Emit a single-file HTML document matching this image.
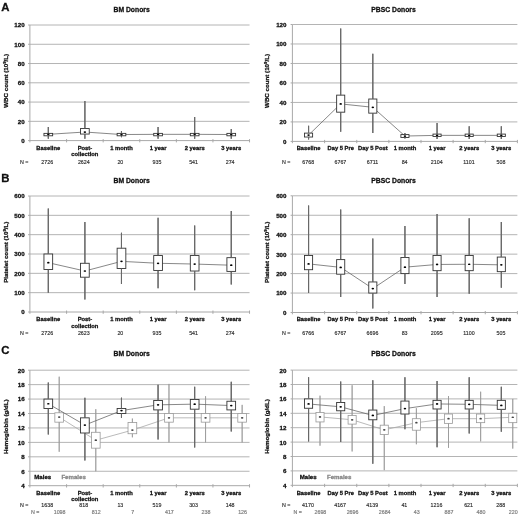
<!DOCTYPE html>
<html><head><meta charset="utf-8"><title>Donor blood counts</title>
<style>
html,body{margin:0;padding:0;background:#fff;}
body{width:520px;height:518px;overflow:hidden;}
svg{display:block;font-family:"Liberation Sans", sans-serif;filter:blur(0.35px);}
text{stroke:currentColor;stroke-width:0.28px;}
text.g{fill:#858585;color:#858585;}
text.r{stroke-width:0.14px;fill:#2a2a2a;color:#2a2a2a;}
text.g.r{fill:#808080;color:#808080;stroke-width:0.2px;}
svg{color:#111;}
</style></head><body>
<svg width="520" height="518" viewBox="0 0 520 518" fill="#111">
<line x1="29.9" y1="121.33" x2="249.54" y2="121.33" stroke="#b4b4b4" stroke-width="1.0"/>
<line x1="29.9" y1="102.07" x2="249.54" y2="102.07" stroke="#b4b4b4" stroke-width="1.0"/>
<line x1="29.9" y1="82.8" x2="249.54" y2="82.8" stroke="#b4b4b4" stroke-width="1.0"/>
<line x1="29.9" y1="63.53" x2="249.54" y2="63.53" stroke="#b4b4b4" stroke-width="1.0"/>
<line x1="29.9" y1="44.27" x2="249.54" y2="44.27" stroke="#b4b4b4" stroke-width="1.0"/>
<line x1="29.9" y1="25" x2="249.54" y2="25" stroke="#b4b4b4" stroke-width="1.0"/>
<line x1="29.9" y1="25" x2="29.9" y2="142.4" stroke="#a8a8a8" stroke-width="1.0"/>
<line x1="28.1" y1="140.6" x2="29.9" y2="140.6" stroke="#a8a8a8" stroke-width="1.0"/>
<text x="24.6" y="143" font-size="6.2" font-weight="bold" text-anchor="end">0</text>
<line x1="28.1" y1="121.33" x2="29.9" y2="121.33" stroke="#a8a8a8" stroke-width="1.0"/>
<text x="24.6" y="123.73" font-size="6.2" font-weight="bold" text-anchor="end">20</text>
<line x1="28.1" y1="102.07" x2="29.9" y2="102.07" stroke="#a8a8a8" stroke-width="1.0"/>
<text x="24.6" y="104.47" font-size="6.2" font-weight="bold" text-anchor="end">40</text>
<line x1="28.1" y1="82.8" x2="29.9" y2="82.8" stroke="#a8a8a8" stroke-width="1.0"/>
<text x="24.6" y="85.2" font-size="6.2" font-weight="bold" text-anchor="end">60</text>
<line x1="28.1" y1="63.53" x2="29.9" y2="63.53" stroke="#a8a8a8" stroke-width="1.0"/>
<text x="24.6" y="65.93" font-size="6.2" font-weight="bold" text-anchor="end">80</text>
<line x1="28.1" y1="44.27" x2="29.9" y2="44.27" stroke="#a8a8a8" stroke-width="1.0"/>
<text x="24.6" y="46.67" font-size="6.2" font-weight="bold" text-anchor="end">100</text>
<line x1="28.1" y1="25" x2="29.9" y2="25" stroke="#a8a8a8" stroke-width="1.0"/>
<text x="24.6" y="27.4" font-size="6.2" font-weight="bold" text-anchor="end">120</text>
<line x1="29.9" y1="140.6" x2="249.54" y2="140.6" stroke="#a8a8a8" stroke-width="1.0"/>
<line x1="66.59" y1="139.1" x2="66.59" y2="142.4" stroke="#a8a8a8" stroke-width="1.0"/>
<line x1="103.18" y1="139.1" x2="103.18" y2="142.4" stroke="#a8a8a8" stroke-width="1.0"/>
<line x1="139.77" y1="139.1" x2="139.77" y2="142.4" stroke="#a8a8a8" stroke-width="1.0"/>
<line x1="176.36" y1="139.1" x2="176.36" y2="142.4" stroke="#a8a8a8" stroke-width="1.0"/>
<line x1="212.95" y1="139.1" x2="212.95" y2="142.4" stroke="#a8a8a8" stroke-width="1.0"/>
<line x1="249.54" y1="139.1" x2="249.54" y2="142.4" stroke="#a8a8a8" stroke-width="1.0"/>
<text transform="translate(7.6,80.8) rotate(-90)" font-size="6.2" font-weight="bold" text-anchor="middle">WBC count (10<tspan font-size="70%" dy="-1.6">9</tspan><tspan dy="1.6">/L)</tspan></text>
<text x="131.6" y="11.9" font-size="6.8" font-weight="bold" text-anchor="middle">BM Donors</text>
<text x="1.3" y="11" font-size="11.4" font-weight="bold">A</text>
<polyline fill="none" stroke="#6a6a6a" stroke-width="0.8" points="48.3,134.34 84.89,132.03 121.48,134.53 158.06,134.34 194.66,134.34 231.25,134.53"/>
<line x1="48.3" y1="127.11" x2="48.3" y2="138.67" stroke="#686868" stroke-width="1.1"/>
<line x1="84.89" y1="101.1" x2="84.89" y2="138.67" stroke="#686868" stroke-width="1.1"/>
<line x1="121.48" y1="130.97" x2="121.48" y2="137.23" stroke="#686868" stroke-width="1.1"/>
<line x1="158.06" y1="127.11" x2="158.06" y2="138.67" stroke="#686868" stroke-width="1.1"/>
<line x1="194.66" y1="117" x2="194.66" y2="138.67" stroke="#686868" stroke-width="1.1"/>
<line x1="231.25" y1="129.04" x2="231.25" y2="138.67" stroke="#686868" stroke-width="1.1"/>
<rect x="43.95" y="133.38" width="8.7" height="2.41" fill="#fff" stroke="#333333" stroke-width="0.9"/>
<line x1="48.3" y1="127.11" x2="48.3" y2="133.38" stroke="#686868" stroke-width="1.1"/>
<line x1="48.3" y1="135.78" x2="48.3" y2="138.67" stroke="#686868" stroke-width="1.1"/>
<ellipse cx="48.3" cy="134.34" rx="1.25" ry="0.85" fill="#000"/>
<rect x="80.54" y="128.56" width="8.7" height="5.49" fill="#fff" stroke="#333333" stroke-width="0.9"/>
<line x1="84.89" y1="101.1" x2="84.89" y2="128.56" stroke="#686868" stroke-width="1.1"/>
<line x1="84.89" y1="134.05" x2="84.89" y2="138.67" stroke="#686868" stroke-width="1.1"/>
<ellipse cx="84.89" cy="132.03" rx="1.25" ry="0.85" fill="#000"/>
<rect x="117.13" y="133.38" width="8.7" height="2.41" fill="#fff" stroke="#333333" stroke-width="0.9"/>
<line x1="121.48" y1="130.97" x2="121.48" y2="133.38" stroke="#686868" stroke-width="1.1"/>
<line x1="121.48" y1="135.78" x2="121.48" y2="137.23" stroke="#686868" stroke-width="1.1"/>
<ellipse cx="121.48" cy="134.53" rx="1.25" ry="0.85" fill="#000"/>
<rect x="153.72" y="133.38" width="8.7" height="2.41" fill="#fff" stroke="#333333" stroke-width="0.9"/>
<line x1="158.06" y1="127.11" x2="158.06" y2="133.38" stroke="#686868" stroke-width="1.1"/>
<line x1="158.06" y1="135.78" x2="158.06" y2="138.67" stroke="#686868" stroke-width="1.1"/>
<ellipse cx="158.06" cy="134.34" rx="1.25" ry="0.85" fill="#000"/>
<rect x="190.31" y="133.38" width="8.7" height="2.41" fill="#fff" stroke="#333333" stroke-width="0.9"/>
<line x1="194.66" y1="117" x2="194.66" y2="133.38" stroke="#686868" stroke-width="1.1"/>
<line x1="194.66" y1="135.78" x2="194.66" y2="138.67" stroke="#686868" stroke-width="1.1"/>
<ellipse cx="194.66" cy="134.34" rx="1.25" ry="0.85" fill="#000"/>
<rect x="226.9" y="133.38" width="8.7" height="2.41" fill="#fff" stroke="#333333" stroke-width="0.9"/>
<line x1="231.25" y1="129.04" x2="231.25" y2="133.38" stroke="#686868" stroke-width="1.1"/>
<line x1="231.25" y1="135.78" x2="231.25" y2="138.67" stroke="#686868" stroke-width="1.1"/>
<ellipse cx="231.25" cy="134.53" rx="1.25" ry="0.85" fill="#000"/>
<text x="48.3" y="149.9" font-size="5.8" font-weight="bold" text-anchor="middle">Baseline</text>
<text x="84.89" y="149.9" font-size="5.8" font-weight="bold" text-anchor="middle">Post-</text>
<text x="84.89" y="156.3" font-size="5.8" font-weight="bold" text-anchor="middle">collection</text>
<text x="121.48" y="149.9" font-size="5.8" font-weight="bold" text-anchor="middle">1 month</text>
<text x="158.06" y="149.9" font-size="5.8" font-weight="bold" text-anchor="middle">1 year</text>
<text x="194.66" y="149.9" font-size="5.8" font-weight="bold" text-anchor="middle">2 years</text>
<text x="231.25" y="149.9" font-size="5.8" font-weight="bold" text-anchor="middle">3 years</text>
<text class="r" x="20" y="164" font-size="5.3">N =</text>
<text class="r" x="47.2" y="164" font-size="5.3" text-anchor="middle">2726</text>
<text class="r" x="83.79" y="164" font-size="5.3" text-anchor="middle">2624</text>
<text class="r" x="120.38" y="164" font-size="5.3" text-anchor="middle">20</text>
<text class="r" x="156.97" y="164" font-size="5.3" text-anchor="middle">935</text>
<text class="r" x="193.56" y="164" font-size="5.3" text-anchor="middle">541</text>
<text class="r" x="230.15" y="164" font-size="5.3" text-anchor="middle">274</text>
<line x1="292.4" y1="121.92" x2="517.38" y2="121.92" stroke="#b4b4b4" stroke-width="1.0"/>
<line x1="292.4" y1="102.43" x2="517.38" y2="102.43" stroke="#b4b4b4" stroke-width="1.0"/>
<line x1="292.4" y1="82.95" x2="517.38" y2="82.95" stroke="#b4b4b4" stroke-width="1.0"/>
<line x1="292.4" y1="63.47" x2="517.38" y2="63.47" stroke="#b4b4b4" stroke-width="1.0"/>
<line x1="292.4" y1="43.98" x2="517.38" y2="43.98" stroke="#b4b4b4" stroke-width="1.0"/>
<line x1="292.4" y1="24.5" x2="517.38" y2="24.5" stroke="#b4b4b4" stroke-width="1.0"/>
<line x1="292.4" y1="24.5" x2="292.4" y2="143.2" stroke="#a8a8a8" stroke-width="1.0"/>
<line x1="290.6" y1="141.4" x2="292.4" y2="141.4" stroke="#a8a8a8" stroke-width="1.0"/>
<text x="286.5" y="143.8" font-size="6.2" font-weight="bold" text-anchor="end">0</text>
<line x1="290.6" y1="121.92" x2="292.4" y2="121.92" stroke="#a8a8a8" stroke-width="1.0"/>
<text x="286.5" y="124.32" font-size="6.2" font-weight="bold" text-anchor="end">20</text>
<line x1="290.6" y1="102.43" x2="292.4" y2="102.43" stroke="#a8a8a8" stroke-width="1.0"/>
<text x="286.5" y="104.83" font-size="6.2" font-weight="bold" text-anchor="end">40</text>
<line x1="290.6" y1="82.95" x2="292.4" y2="82.95" stroke="#a8a8a8" stroke-width="1.0"/>
<text x="286.5" y="85.35" font-size="6.2" font-weight="bold" text-anchor="end">60</text>
<line x1="290.6" y1="63.47" x2="292.4" y2="63.47" stroke="#a8a8a8" stroke-width="1.0"/>
<text x="286.5" y="65.87" font-size="6.2" font-weight="bold" text-anchor="end">80</text>
<line x1="290.6" y1="43.98" x2="292.4" y2="43.98" stroke="#a8a8a8" stroke-width="1.0"/>
<text x="286.5" y="46.38" font-size="6.2" font-weight="bold" text-anchor="end">100</text>
<line x1="290.6" y1="24.5" x2="292.4" y2="24.5" stroke="#a8a8a8" stroke-width="1.0"/>
<text x="286.5" y="26.9" font-size="6.2" font-weight="bold" text-anchor="end">120</text>
<line x1="292.4" y1="141.4" x2="517.38" y2="141.4" stroke="#a8a8a8" stroke-width="1.0"/>
<line x1="324.62" y1="139.9" x2="324.62" y2="143.2" stroke="#a8a8a8" stroke-width="1.0"/>
<line x1="356.75" y1="139.9" x2="356.75" y2="143.2" stroke="#a8a8a8" stroke-width="1.0"/>
<line x1="388.88" y1="139.9" x2="388.88" y2="143.2" stroke="#a8a8a8" stroke-width="1.0"/>
<line x1="421" y1="139.9" x2="421" y2="143.2" stroke="#a8a8a8" stroke-width="1.0"/>
<line x1="453.12" y1="139.9" x2="453.12" y2="143.2" stroke="#a8a8a8" stroke-width="1.0"/>
<line x1="485.25" y1="139.9" x2="485.25" y2="143.2" stroke="#a8a8a8" stroke-width="1.0"/>
<line x1="517.38" y1="139.9" x2="517.38" y2="143.2" stroke="#a8a8a8" stroke-width="1.0"/>
<text transform="translate(268.6,80.95) rotate(-90)" font-size="6.2" font-weight="bold" text-anchor="middle">WBC count (10<tspan font-size="70%" dy="-1.6">9</tspan><tspan dy="1.6">/L)</tspan></text>
<text x="393.5" y="11.9" font-size="6.8" font-weight="bold" text-anchor="middle">PBSC Donors</text>
<polyline fill="none" stroke="#6a6a6a" stroke-width="0.8" points="308.56,135.07 340.69,103.89 372.81,107.3 404.94,136.04 437.06,135.36 469.19,135.36 501.31,135.36"/>
<line x1="308.56" y1="125.81" x2="308.56" y2="139.45" stroke="#686868" stroke-width="1.1"/>
<line x1="340.69" y1="28.4" x2="340.69" y2="131.66" stroke="#686868" stroke-width="1.1"/>
<line x1="372.81" y1="53.72" x2="372.81" y2="133.12" stroke="#686868" stroke-width="1.1"/>
<line x1="404.94" y1="133.12" x2="404.94" y2="138.48" stroke="#686868" stroke-width="1.1"/>
<line x1="437.06" y1="122.89" x2="437.06" y2="138.96" stroke="#686868" stroke-width="1.1"/>
<line x1="469.19" y1="126.3" x2="469.19" y2="138.96" stroke="#686868" stroke-width="1.1"/>
<line x1="501.31" y1="126.3" x2="501.31" y2="138.96" stroke="#686868" stroke-width="1.1"/>
<rect x="304.51" y="133.12" width="8.1" height="3.9" fill="#fff" stroke="#333333" stroke-width="0.9"/>
<line x1="308.56" y1="125.81" x2="308.56" y2="133.12" stroke="#686868" stroke-width="1.1"/>
<line x1="308.56" y1="137.02" x2="308.56" y2="139.45" stroke="#686868" stroke-width="1.1"/>
<ellipse cx="308.56" cy="135.07" rx="1.25" ry="0.85" fill="#000"/>
<rect x="336.64" y="95.13" width="8.1" height="17.05" fill="#fff" stroke="#333333" stroke-width="0.9"/>
<line x1="340.69" y1="28.4" x2="340.69" y2="95.13" stroke="#686868" stroke-width="1.1"/>
<line x1="340.69" y1="112.18" x2="340.69" y2="131.66" stroke="#686868" stroke-width="1.1"/>
<ellipse cx="340.69" cy="103.89" rx="1.25" ry="0.85" fill="#000"/>
<rect x="368.76" y="99.02" width="8.1" height="14.13" fill="#fff" stroke="#333333" stroke-width="0.9"/>
<line x1="372.81" y1="53.72" x2="372.81" y2="99.02" stroke="#686868" stroke-width="1.1"/>
<line x1="372.81" y1="113.15" x2="372.81" y2="133.12" stroke="#686868" stroke-width="1.1"/>
<ellipse cx="372.81" cy="107.3" rx="1.25" ry="0.85" fill="#000"/>
<rect x="400.89" y="134.58" width="8.1" height="2.92" fill="#fff" stroke="#333333" stroke-width="0.9"/>
<line x1="404.94" y1="133.12" x2="404.94" y2="134.58" stroke="#686868" stroke-width="1.1"/>
<line x1="404.94" y1="137.5" x2="404.94" y2="138.48" stroke="#686868" stroke-width="1.1"/>
<ellipse cx="404.94" cy="136.04" rx="1.25" ry="0.85" fill="#000"/>
<rect x="433.01" y="134.09" width="8.1" height="2.44" fill="#fff" stroke="#333333" stroke-width="0.9"/>
<line x1="437.06" y1="122.89" x2="437.06" y2="134.09" stroke="#686868" stroke-width="1.1"/>
<line x1="437.06" y1="136.53" x2="437.06" y2="138.96" stroke="#686868" stroke-width="1.1"/>
<ellipse cx="437.06" cy="135.36" rx="1.25" ry="0.85" fill="#000"/>
<rect x="465.14" y="134.09" width="8.1" height="2.44" fill="#fff" stroke="#333333" stroke-width="0.9"/>
<line x1="469.19" y1="126.3" x2="469.19" y2="134.09" stroke="#686868" stroke-width="1.1"/>
<line x1="469.19" y1="136.53" x2="469.19" y2="138.96" stroke="#686868" stroke-width="1.1"/>
<ellipse cx="469.19" cy="135.36" rx="1.25" ry="0.85" fill="#000"/>
<rect x="497.26" y="134.09" width="8.1" height="2.44" fill="#fff" stroke="#333333" stroke-width="0.9"/>
<line x1="501.31" y1="126.3" x2="501.31" y2="134.09" stroke="#686868" stroke-width="1.1"/>
<line x1="501.31" y1="136.53" x2="501.31" y2="138.96" stroke="#686868" stroke-width="1.1"/>
<ellipse cx="501.31" cy="135.36" rx="1.25" ry="0.85" fill="#000"/>
<text x="308.56" y="149.9" font-size="5.8" font-weight="bold" text-anchor="middle">Baseline</text>
<text x="340.69" y="149.9" font-size="5.8" font-weight="bold" text-anchor="middle">Day 5 Pre</text>
<text x="372.81" y="149.9" font-size="5.8" font-weight="bold" text-anchor="middle">Day 5 Post</text>
<text x="404.94" y="149.9" font-size="5.8" font-weight="bold" text-anchor="middle">1 month</text>
<text x="437.06" y="149.9" font-size="5.8" font-weight="bold" text-anchor="middle">1 year</text>
<text x="469.19" y="149.9" font-size="5.8" font-weight="bold" text-anchor="middle">2 years</text>
<text x="501.31" y="149.9" font-size="5.8" font-weight="bold" text-anchor="middle">3 years</text>
<text class="r" x="282" y="164" font-size="5.3">N =</text>
<text class="r" x="308.26" y="164" font-size="5.3" text-anchor="middle">6768</text>
<text class="r" x="340.39" y="164" font-size="5.3" text-anchor="middle">6767</text>
<text class="r" x="372.51" y="164" font-size="5.3" text-anchor="middle">6711</text>
<text class="r" x="404.64" y="164" font-size="5.3" text-anchor="middle">84</text>
<text class="r" x="436.76" y="164" font-size="5.3" text-anchor="middle">2104</text>
<text class="r" x="468.89" y="164" font-size="5.3" text-anchor="middle">1101</text>
<text class="r" x="501.01" y="164" font-size="5.3" text-anchor="middle">508</text>
<line x1="29.9" y1="292.67" x2="249.54" y2="292.67" stroke="#b4b4b4" stroke-width="1.0"/>
<line x1="29.9" y1="273.33" x2="249.54" y2="273.33" stroke="#b4b4b4" stroke-width="1.0"/>
<line x1="29.9" y1="254" x2="249.54" y2="254" stroke="#b4b4b4" stroke-width="1.0"/>
<line x1="29.9" y1="234.67" x2="249.54" y2="234.67" stroke="#b4b4b4" stroke-width="1.0"/>
<line x1="29.9" y1="215.33" x2="249.54" y2="215.33" stroke="#b4b4b4" stroke-width="1.0"/>
<line x1="29.9" y1="196" x2="249.54" y2="196" stroke="#b4b4b4" stroke-width="1.0"/>
<line x1="29.9" y1="196" x2="29.9" y2="313.8" stroke="#a8a8a8" stroke-width="1.0"/>
<line x1="28.1" y1="312" x2="29.9" y2="312" stroke="#a8a8a8" stroke-width="1.0"/>
<text x="24.6" y="314.4" font-size="6.2" font-weight="bold" text-anchor="end">0</text>
<line x1="28.1" y1="292.67" x2="29.9" y2="292.67" stroke="#a8a8a8" stroke-width="1.0"/>
<text x="24.6" y="295.07" font-size="6.2" font-weight="bold" text-anchor="end">100</text>
<line x1="28.1" y1="273.33" x2="29.9" y2="273.33" stroke="#a8a8a8" stroke-width="1.0"/>
<text x="24.6" y="275.73" font-size="6.2" font-weight="bold" text-anchor="end">200</text>
<line x1="28.1" y1="254" x2="29.9" y2="254" stroke="#a8a8a8" stroke-width="1.0"/>
<text x="24.6" y="256.4" font-size="6.2" font-weight="bold" text-anchor="end">300</text>
<line x1="28.1" y1="234.67" x2="29.9" y2="234.67" stroke="#a8a8a8" stroke-width="1.0"/>
<text x="24.6" y="237.07" font-size="6.2" font-weight="bold" text-anchor="end">400</text>
<line x1="28.1" y1="215.33" x2="29.9" y2="215.33" stroke="#a8a8a8" stroke-width="1.0"/>
<text x="24.6" y="217.73" font-size="6.2" font-weight="bold" text-anchor="end">500</text>
<line x1="28.1" y1="196" x2="29.9" y2="196" stroke="#a8a8a8" stroke-width="1.0"/>
<text x="24.6" y="198.4" font-size="6.2" font-weight="bold" text-anchor="end">600</text>
<line x1="29.9" y1="312" x2="249.54" y2="312" stroke="#a8a8a8" stroke-width="1.0"/>
<line x1="66.59" y1="310.5" x2="66.59" y2="313.8" stroke="#a8a8a8" stroke-width="1.0"/>
<line x1="103.18" y1="310.5" x2="103.18" y2="313.8" stroke="#a8a8a8" stroke-width="1.0"/>
<line x1="139.77" y1="310.5" x2="139.77" y2="313.8" stroke="#a8a8a8" stroke-width="1.0"/>
<line x1="176.36" y1="310.5" x2="176.36" y2="313.8" stroke="#a8a8a8" stroke-width="1.0"/>
<line x1="212.95" y1="310.5" x2="212.95" y2="313.8" stroke="#a8a8a8" stroke-width="1.0"/>
<line x1="249.54" y1="310.5" x2="249.54" y2="313.8" stroke="#a8a8a8" stroke-width="1.0"/>
<text transform="translate(7.6,252.2) rotate(-90)" font-size="6.2" font-weight="bold" text-anchor="middle">Platelet count (10<tspan font-size="70%" dy="-1.6">9</tspan><tspan dy="1.6">/L)</tspan></text>
<text x="131.6" y="183" font-size="6.8" font-weight="bold" text-anchor="middle">BM Donors</text>
<text x="1.3" y="181.5" font-size="11.4" font-weight="bold">B</text>
<polyline fill="none" stroke="#6a6a6a" stroke-width="0.8" points="48.3,262.7 84.89,271.01 121.48,261.35 158.06,263.28 194.66,264.05 231.25,265.21"/>
<line x1="48.3" y1="208.57" x2="48.3" y2="292.67" stroke="#686868" stroke-width="1.1"/>
<line x1="84.89" y1="222.1" x2="84.89" y2="299.43" stroke="#686868" stroke-width="1.1"/>
<line x1="121.48" y1="232.73" x2="121.48" y2="283.97" stroke="#686868" stroke-width="1.1"/>
<line x1="158.06" y1="217.85" x2="158.06" y2="288.22" stroke="#686868" stroke-width="1.1"/>
<line x1="194.66" y1="225.39" x2="194.66" y2="290.15" stroke="#686868" stroke-width="1.1"/>
<line x1="231.25" y1="211.08" x2="231.25" y2="284.55" stroke="#686868" stroke-width="1.1"/>
<rect x="43.95" y="254" width="8.7" height="15.47" fill="#fff" stroke="#333333" stroke-width="0.9"/>
<line x1="48.3" y1="208.57" x2="48.3" y2="254" stroke="#686868" stroke-width="1.1"/>
<line x1="48.3" y1="269.47" x2="48.3" y2="292.67" stroke="#686868" stroke-width="1.1"/>
<ellipse cx="48.3" cy="262.7" rx="1.25" ry="0.85" fill="#000"/>
<rect x="80.54" y="263.28" width="8.7" height="13.92" fill="#fff" stroke="#333333" stroke-width="0.9"/>
<line x1="84.89" y1="222.1" x2="84.89" y2="263.28" stroke="#686868" stroke-width="1.1"/>
<line x1="84.89" y1="277.2" x2="84.89" y2="299.43" stroke="#686868" stroke-width="1.1"/>
<ellipse cx="84.89" cy="271.01" rx="1.25" ry="0.85" fill="#000"/>
<rect x="117.13" y="248.2" width="8.7" height="20.3" fill="#fff" stroke="#333333" stroke-width="0.9"/>
<line x1="121.48" y1="232.73" x2="121.48" y2="248.2" stroke="#686868" stroke-width="1.1"/>
<line x1="121.48" y1="268.5" x2="121.48" y2="283.97" stroke="#686868" stroke-width="1.1"/>
<ellipse cx="121.48" cy="261.35" rx="1.25" ry="0.85" fill="#000"/>
<rect x="153.72" y="255.55" width="8.7" height="14.89" fill="#fff" stroke="#333333" stroke-width="0.9"/>
<line x1="158.06" y1="217.85" x2="158.06" y2="255.55" stroke="#686868" stroke-width="1.1"/>
<line x1="158.06" y1="270.43" x2="158.06" y2="288.22" stroke="#686868" stroke-width="1.1"/>
<ellipse cx="158.06" cy="263.28" rx="1.25" ry="0.85" fill="#000"/>
<rect x="190.31" y="255.55" width="8.7" height="15.47" fill="#fff" stroke="#333333" stroke-width="0.9"/>
<line x1="194.66" y1="225.39" x2="194.66" y2="255.55" stroke="#686868" stroke-width="1.1"/>
<line x1="194.66" y1="271.01" x2="194.66" y2="290.15" stroke="#686868" stroke-width="1.1"/>
<ellipse cx="194.66" cy="264.05" rx="1.25" ry="0.85" fill="#000"/>
<rect x="226.9" y="257.67" width="8.7" height="13.73" fill="#fff" stroke="#333333" stroke-width="0.9"/>
<line x1="231.25" y1="211.08" x2="231.25" y2="257.67" stroke="#686868" stroke-width="1.1"/>
<line x1="231.25" y1="271.4" x2="231.25" y2="284.55" stroke="#686868" stroke-width="1.1"/>
<ellipse cx="231.25" cy="265.21" rx="1.25" ry="0.85" fill="#000"/>
<text x="48.3" y="321.4" font-size="5.8" font-weight="bold" text-anchor="middle">Baseline</text>
<text x="84.89" y="321.4" font-size="5.8" font-weight="bold" text-anchor="middle">Post-</text>
<text x="84.89" y="327.8" font-size="5.8" font-weight="bold" text-anchor="middle">collection</text>
<text x="121.48" y="321.4" font-size="5.8" font-weight="bold" text-anchor="middle">1 month</text>
<text x="158.06" y="321.4" font-size="5.8" font-weight="bold" text-anchor="middle">1 year</text>
<text x="194.66" y="321.4" font-size="5.8" font-weight="bold" text-anchor="middle">2 years</text>
<text x="231.25" y="321.4" font-size="5.8" font-weight="bold" text-anchor="middle">3 years</text>
<text class="r" x="20" y="334.8" font-size="5.3">N =</text>
<text class="r" x="47.2" y="334.8" font-size="5.3" text-anchor="middle">2726</text>
<text class="r" x="83.79" y="334.8" font-size="5.3" text-anchor="middle">2623</text>
<text class="r" x="120.38" y="334.8" font-size="5.3" text-anchor="middle">20</text>
<text class="r" x="156.97" y="334.8" font-size="5.3" text-anchor="middle">935</text>
<text class="r" x="193.56" y="334.8" font-size="5.3" text-anchor="middle">541</text>
<text class="r" x="230.15" y="334.8" font-size="5.3" text-anchor="middle">274</text>
<line x1="292.4" y1="293.05" x2="517.38" y2="293.05" stroke="#b4b4b4" stroke-width="1.0"/>
<line x1="292.4" y1="273.6" x2="517.38" y2="273.6" stroke="#b4b4b4" stroke-width="1.0"/>
<line x1="292.4" y1="254.15" x2="517.38" y2="254.15" stroke="#b4b4b4" stroke-width="1.0"/>
<line x1="292.4" y1="234.7" x2="517.38" y2="234.7" stroke="#b4b4b4" stroke-width="1.0"/>
<line x1="292.4" y1="215.25" x2="517.38" y2="215.25" stroke="#b4b4b4" stroke-width="1.0"/>
<line x1="292.4" y1="195.8" x2="517.38" y2="195.8" stroke="#b4b4b4" stroke-width="1.0"/>
<line x1="292.4" y1="195.8" x2="292.4" y2="314.3" stroke="#a8a8a8" stroke-width="1.0"/>
<line x1="290.6" y1="312.5" x2="292.4" y2="312.5" stroke="#a8a8a8" stroke-width="1.0"/>
<text x="286.5" y="314.9" font-size="6.2" font-weight="bold" text-anchor="end">0</text>
<line x1="290.6" y1="293.05" x2="292.4" y2="293.05" stroke="#a8a8a8" stroke-width="1.0"/>
<text x="286.5" y="295.45" font-size="6.2" font-weight="bold" text-anchor="end">100</text>
<line x1="290.6" y1="273.6" x2="292.4" y2="273.6" stroke="#a8a8a8" stroke-width="1.0"/>
<text x="286.5" y="276" font-size="6.2" font-weight="bold" text-anchor="end">200</text>
<line x1="290.6" y1="254.15" x2="292.4" y2="254.15" stroke="#a8a8a8" stroke-width="1.0"/>
<text x="286.5" y="256.55" font-size="6.2" font-weight="bold" text-anchor="end">300</text>
<line x1="290.6" y1="234.7" x2="292.4" y2="234.7" stroke="#a8a8a8" stroke-width="1.0"/>
<text x="286.5" y="237.1" font-size="6.2" font-weight="bold" text-anchor="end">400</text>
<line x1="290.6" y1="215.25" x2="292.4" y2="215.25" stroke="#a8a8a8" stroke-width="1.0"/>
<text x="286.5" y="217.65" font-size="6.2" font-weight="bold" text-anchor="end">500</text>
<line x1="290.6" y1="195.8" x2="292.4" y2="195.8" stroke="#a8a8a8" stroke-width="1.0"/>
<text x="286.5" y="198.2" font-size="6.2" font-weight="bold" text-anchor="end">600</text>
<line x1="292.4" y1="312.5" x2="517.38" y2="312.5" stroke="#a8a8a8" stroke-width="1.0"/>
<line x1="324.62" y1="311" x2="324.62" y2="314.3" stroke="#a8a8a8" stroke-width="1.0"/>
<line x1="356.75" y1="311" x2="356.75" y2="314.3" stroke="#a8a8a8" stroke-width="1.0"/>
<line x1="388.88" y1="311" x2="388.88" y2="314.3" stroke="#a8a8a8" stroke-width="1.0"/>
<line x1="421" y1="311" x2="421" y2="314.3" stroke="#a8a8a8" stroke-width="1.0"/>
<line x1="453.12" y1="311" x2="453.12" y2="314.3" stroke="#a8a8a8" stroke-width="1.0"/>
<line x1="485.25" y1="311" x2="485.25" y2="314.3" stroke="#a8a8a8" stroke-width="1.0"/>
<line x1="517.38" y1="311" x2="517.38" y2="314.3" stroke="#a8a8a8" stroke-width="1.0"/>
<text transform="translate(268.6,252.35) rotate(-90)" font-size="6.2" font-weight="bold" text-anchor="middle">Platelet count (10<tspan font-size="70%" dy="-1.6">9</tspan><tspan dy="1.6">/L)</tspan></text>
<text x="393.5" y="183" font-size="6.8" font-weight="bold" text-anchor="middle">PBSC Donors</text>
<polyline fill="none" stroke="#6a6a6a" stroke-width="0.8" points="308.56,263.88 340.69,267.38 372.81,288.58 404.94,267.18 437.06,264.46 469.19,264.26 501.31,264.85"/>
<line x1="308.56" y1="205.53" x2="308.56" y2="293.05" stroke="#686868" stroke-width="1.1"/>
<line x1="340.69" y1="209.42" x2="340.69" y2="296.94" stroke="#686868" stroke-width="1.1"/>
<line x1="372.81" y1="238.59" x2="372.81" y2="308.61" stroke="#686868" stroke-width="1.1"/>
<line x1="404.94" y1="225.95" x2="404.94" y2="283.91" stroke="#686868" stroke-width="1.1"/>
<line x1="437.06" y1="213.89" x2="437.06" y2="296.94" stroke="#686868" stroke-width="1.1"/>
<line x1="469.19" y1="218.17" x2="469.19" y2="293.83" stroke="#686868" stroke-width="1.1"/>
<line x1="501.31" y1="222.06" x2="501.31" y2="287.8" stroke="#686868" stroke-width="1.1"/>
<rect x="304.51" y="255.51" width="8.1" height="14.2" fill="#fff" stroke="#333333" stroke-width="0.9"/>
<line x1="308.56" y1="205.53" x2="308.56" y2="255.51" stroke="#686868" stroke-width="1.1"/>
<line x1="308.56" y1="269.71" x2="308.56" y2="293.05" stroke="#686868" stroke-width="1.1"/>
<ellipse cx="308.56" cy="263.88" rx="1.25" ry="0.85" fill="#000"/>
<rect x="336.64" y="259.6" width="8.1" height="14.59" fill="#fff" stroke="#333333" stroke-width="0.9"/>
<line x1="340.69" y1="209.42" x2="340.69" y2="259.6" stroke="#686868" stroke-width="1.1"/>
<line x1="340.69" y1="274.18" x2="340.69" y2="296.94" stroke="#686868" stroke-width="1.1"/>
<ellipse cx="340.69" cy="267.38" rx="1.25" ry="0.85" fill="#000"/>
<rect x="368.76" y="281.96" width="8.1" height="11.09" fill="#fff" stroke="#333333" stroke-width="0.9"/>
<line x1="372.81" y1="238.59" x2="372.81" y2="281.96" stroke="#686868" stroke-width="1.1"/>
<line x1="372.81" y1="293.05" x2="372.81" y2="308.61" stroke="#686868" stroke-width="1.1"/>
<ellipse cx="372.81" cy="288.58" rx="1.25" ry="0.85" fill="#000"/>
<rect x="400.89" y="257.46" width="8.1" height="16.14" fill="#fff" stroke="#333333" stroke-width="0.9"/>
<line x1="404.94" y1="225.95" x2="404.94" y2="257.46" stroke="#686868" stroke-width="1.1"/>
<line x1="404.94" y1="273.6" x2="404.94" y2="283.91" stroke="#686868" stroke-width="1.1"/>
<ellipse cx="404.94" cy="267.18" rx="1.25" ry="0.85" fill="#000"/>
<rect x="433.01" y="255.51" width="8.1" height="15.17" fill="#fff" stroke="#333333" stroke-width="0.9"/>
<line x1="437.06" y1="213.89" x2="437.06" y2="255.51" stroke="#686868" stroke-width="1.1"/>
<line x1="437.06" y1="270.68" x2="437.06" y2="296.94" stroke="#686868" stroke-width="1.1"/>
<ellipse cx="437.06" cy="264.46" rx="1.25" ry="0.85" fill="#000"/>
<rect x="465.14" y="255.51" width="8.1" height="15.17" fill="#fff" stroke="#333333" stroke-width="0.9"/>
<line x1="469.19" y1="218.17" x2="469.19" y2="255.51" stroke="#686868" stroke-width="1.1"/>
<line x1="469.19" y1="270.68" x2="469.19" y2="293.83" stroke="#686868" stroke-width="1.1"/>
<ellipse cx="469.19" cy="264.26" rx="1.25" ry="0.85" fill="#000"/>
<rect x="497.26" y="257.07" width="8.1" height="14.59" fill="#fff" stroke="#333333" stroke-width="0.9"/>
<line x1="501.31" y1="222.06" x2="501.31" y2="257.07" stroke="#686868" stroke-width="1.1"/>
<line x1="501.31" y1="271.66" x2="501.31" y2="287.8" stroke="#686868" stroke-width="1.1"/>
<ellipse cx="501.31" cy="264.85" rx="1.25" ry="0.85" fill="#000"/>
<text x="308.56" y="321.4" font-size="5.8" font-weight="bold" text-anchor="middle">Baseline</text>
<text x="340.69" y="321.4" font-size="5.8" font-weight="bold" text-anchor="middle">Day 5 Pre</text>
<text x="372.81" y="321.4" font-size="5.8" font-weight="bold" text-anchor="middle">Day 5 Post</text>
<text x="404.94" y="321.4" font-size="5.8" font-weight="bold" text-anchor="middle">1 month</text>
<text x="437.06" y="321.4" font-size="5.8" font-weight="bold" text-anchor="middle">1 year</text>
<text x="469.19" y="321.4" font-size="5.8" font-weight="bold" text-anchor="middle">2 years</text>
<text x="501.31" y="321.4" font-size="5.8" font-weight="bold" text-anchor="middle">3 years</text>
<text class="r" x="282" y="334.8" font-size="5.3">N =</text>
<text class="r" x="308.26" y="334.8" font-size="5.3" text-anchor="middle">6766</text>
<text class="r" x="340.39" y="334.8" font-size="5.3" text-anchor="middle">6767</text>
<text class="r" x="372.51" y="334.8" font-size="5.3" text-anchor="middle">6696</text>
<text class="r" x="404.64" y="334.8" font-size="5.3" text-anchor="middle">83</text>
<text class="r" x="436.76" y="334.8" font-size="5.3" text-anchor="middle">2095</text>
<text class="r" x="468.89" y="334.8" font-size="5.3" text-anchor="middle">1100</text>
<text class="r" x="501.01" y="334.8" font-size="5.3" text-anchor="middle">505</text>
<line x1="29.9" y1="471.26" x2="249.54" y2="471.26" stroke="#b4b4b4" stroke-width="1.0"/>
<line x1="29.9" y1="456.82" x2="249.54" y2="456.82" stroke="#b4b4b4" stroke-width="1.0"/>
<line x1="29.9" y1="442.39" x2="249.54" y2="442.39" stroke="#b4b4b4" stroke-width="1.0"/>
<line x1="29.9" y1="427.95" x2="249.54" y2="427.95" stroke="#b4b4b4" stroke-width="1.0"/>
<line x1="29.9" y1="413.51" x2="249.54" y2="413.51" stroke="#b4b4b4" stroke-width="1.0"/>
<line x1="29.9" y1="399.07" x2="249.54" y2="399.07" stroke="#b4b4b4" stroke-width="1.0"/>
<line x1="29.9" y1="384.64" x2="249.54" y2="384.64" stroke="#b4b4b4" stroke-width="1.0"/>
<line x1="29.9" y1="370.2" x2="249.54" y2="370.2" stroke="#b4b4b4" stroke-width="1.0"/>
<line x1="29.9" y1="370.2" x2="29.9" y2="487.5" stroke="#a8a8a8" stroke-width="1.0"/>
<line x1="28.1" y1="485.7" x2="29.9" y2="485.7" stroke="#a8a8a8" stroke-width="1.0"/>
<text x="24.6" y="488.1" font-size="6.2" font-weight="bold" text-anchor="end">4</text>
<line x1="28.1" y1="471.26" x2="29.9" y2="471.26" stroke="#a8a8a8" stroke-width="1.0"/>
<text x="24.6" y="473.66" font-size="6.2" font-weight="bold" text-anchor="end">6</text>
<line x1="28.1" y1="456.82" x2="29.9" y2="456.82" stroke="#a8a8a8" stroke-width="1.0"/>
<text x="24.6" y="459.22" font-size="6.2" font-weight="bold" text-anchor="end">8</text>
<line x1="28.1" y1="442.39" x2="29.9" y2="442.39" stroke="#a8a8a8" stroke-width="1.0"/>
<text x="24.6" y="444.79" font-size="6.2" font-weight="bold" text-anchor="end">10</text>
<line x1="28.1" y1="427.95" x2="29.9" y2="427.95" stroke="#a8a8a8" stroke-width="1.0"/>
<text x="24.6" y="430.35" font-size="6.2" font-weight="bold" text-anchor="end">12</text>
<line x1="28.1" y1="413.51" x2="29.9" y2="413.51" stroke="#a8a8a8" stroke-width="1.0"/>
<text x="24.6" y="415.91" font-size="6.2" font-weight="bold" text-anchor="end">14</text>
<line x1="28.1" y1="399.07" x2="29.9" y2="399.07" stroke="#a8a8a8" stroke-width="1.0"/>
<text x="24.6" y="401.47" font-size="6.2" font-weight="bold" text-anchor="end">16</text>
<line x1="28.1" y1="384.64" x2="29.9" y2="384.64" stroke="#a8a8a8" stroke-width="1.0"/>
<text x="24.6" y="387.04" font-size="6.2" font-weight="bold" text-anchor="end">18</text>
<line x1="28.1" y1="370.2" x2="29.9" y2="370.2" stroke="#a8a8a8" stroke-width="1.0"/>
<text x="24.6" y="372.6" font-size="6.2" font-weight="bold" text-anchor="end">20</text>
<line x1="29.9" y1="485.7" x2="249.54" y2="485.7" stroke="#a8a8a8" stroke-width="1.0"/>
<line x1="66.59" y1="484.2" x2="66.59" y2="487.5" stroke="#a8a8a8" stroke-width="1.0"/>
<line x1="103.18" y1="484.2" x2="103.18" y2="487.5" stroke="#a8a8a8" stroke-width="1.0"/>
<line x1="139.77" y1="484.2" x2="139.77" y2="487.5" stroke="#a8a8a8" stroke-width="1.0"/>
<line x1="176.36" y1="484.2" x2="176.36" y2="487.5" stroke="#a8a8a8" stroke-width="1.0"/>
<line x1="212.95" y1="484.2" x2="212.95" y2="487.5" stroke="#a8a8a8" stroke-width="1.0"/>
<line x1="249.54" y1="484.2" x2="249.54" y2="487.5" stroke="#a8a8a8" stroke-width="1.0"/>
<text transform="translate(7.6,426.75) rotate(-90)" font-size="6.2" font-weight="bold" text-anchor="middle">Hemoglobin (g/dL)</text>
<text x="131.6" y="355.5" font-size="6.8" font-weight="bold" text-anchor="middle">BM Donors</text>
<text x="1.3" y="354.2" font-size="11.4" font-weight="bold">C</text>
<polyline fill="none" stroke="#a8a8a8" stroke-width="0.8" points="59.2,417.12 95.79,440.22 132.38,430.12 168.97,417.84 205.56,417.84 242.15,417.84"/>
<line x1="59.2" y1="376.7" x2="59.2" y2="451.77" stroke="#999999" stroke-width="0.8"/>
<line x1="95.79" y1="409.18" x2="95.79" y2="471.26" stroke="#999999" stroke-width="0.8"/>
<line x1="132.38" y1="418.57" x2="132.38" y2="437.33" stroke="#999999" stroke-width="0.8"/>
<line x1="168.97" y1="383.92" x2="168.97" y2="442.39" stroke="#999999" stroke-width="0.8"/>
<line x1="205.56" y1="396.19" x2="205.56" y2="442.39" stroke="#999999" stroke-width="0.8"/>
<line x1="242.15" y1="404.85" x2="242.15" y2="442.39" stroke="#999999" stroke-width="0.8"/>
<rect x="54.84" y="412.79" width="8.7" height="9.38" fill="#fff" stroke="#9a9a9a" stroke-width="0.8"/>
<line x1="59.2" y1="376.7" x2="59.2" y2="412.79" stroke="#999999" stroke-width="0.8"/>
<line x1="59.2" y1="422.17" x2="59.2" y2="451.77" stroke="#999999" stroke-width="0.8"/>
<ellipse cx="59.2" cy="417.12" rx="1.25" ry="0.85" fill="#444"/>
<rect x="91.44" y="432.28" width="8.7" height="15.88" fill="#fff" stroke="#9a9a9a" stroke-width="0.8"/>
<line x1="95.79" y1="409.18" x2="95.79" y2="432.28" stroke="#999999" stroke-width="0.8"/>
<line x1="95.79" y1="448.16" x2="95.79" y2="471.26" stroke="#999999" stroke-width="0.8"/>
<ellipse cx="95.79" cy="440.22" rx="1.25" ry="0.85" fill="#444"/>
<rect x="128.03" y="422.54" width="8.7" height="11.19" fill="#fff" stroke="#9a9a9a" stroke-width="0.8"/>
<line x1="132.38" y1="418.57" x2="132.38" y2="422.54" stroke="#999999" stroke-width="0.8"/>
<line x1="132.38" y1="433.73" x2="132.38" y2="437.33" stroke="#999999" stroke-width="0.8"/>
<ellipse cx="132.38" cy="430.12" rx="1.25" ry="0.85" fill="#444"/>
<rect x="164.62" y="413.51" width="8.7" height="8.66" fill="#fff" stroke="#9a9a9a" stroke-width="0.8"/>
<line x1="168.97" y1="383.92" x2="168.97" y2="413.51" stroke="#999999" stroke-width="0.8"/>
<line x1="168.97" y1="422.17" x2="168.97" y2="442.39" stroke="#999999" stroke-width="0.8"/>
<ellipse cx="168.97" cy="417.84" rx="1.25" ry="0.85" fill="#444"/>
<rect x="201.21" y="413.51" width="8.7" height="8.66" fill="#fff" stroke="#9a9a9a" stroke-width="0.8"/>
<line x1="205.56" y1="396.19" x2="205.56" y2="413.51" stroke="#999999" stroke-width="0.8"/>
<line x1="205.56" y1="422.17" x2="205.56" y2="442.39" stroke="#999999" stroke-width="0.8"/>
<ellipse cx="205.56" cy="417.84" rx="1.25" ry="0.85" fill="#444"/>
<rect x="237.8" y="413.51" width="8.7" height="8.66" fill="#fff" stroke="#9a9a9a" stroke-width="0.8"/>
<line x1="242.15" y1="404.85" x2="242.15" y2="413.51" stroke="#999999" stroke-width="0.8"/>
<line x1="242.15" y1="422.17" x2="242.15" y2="442.39" stroke="#999999" stroke-width="0.8"/>
<ellipse cx="242.15" cy="417.84" rx="1.25" ry="0.85" fill="#444"/>
<polyline fill="none" stroke="#6a6a6a" stroke-width="0.8" points="48.3,403.77 84.89,425.06 121.48,410.62 158.06,404.85 194.66,404.13 231.25,405.57"/>
<line x1="48.3" y1="382.47" x2="48.3" y2="434.45" stroke="#686868" stroke-width="1.1"/>
<line x1="84.89" y1="397.63" x2="84.89" y2="460.43" stroke="#686868" stroke-width="1.1"/>
<line x1="121.48" y1="397.63" x2="121.48" y2="417.84" stroke="#686868" stroke-width="1.1"/>
<line x1="158.06" y1="384.64" x2="158.06" y2="439.5" stroke="#686868" stroke-width="1.1"/>
<line x1="194.66" y1="386.8" x2="194.66" y2="447.44" stroke="#686868" stroke-width="1.1"/>
<line x1="231.25" y1="381.75" x2="231.25" y2="431.56" stroke="#686868" stroke-width="1.1"/>
<rect x="43.95" y="399.07" width="8.7" height="9.38" fill="#fff" stroke="#333333" stroke-width="0.9"/>
<line x1="48.3" y1="382.47" x2="48.3" y2="399.07" stroke="#686868" stroke-width="1.1"/>
<line x1="48.3" y1="408.46" x2="48.3" y2="434.45" stroke="#686868" stroke-width="1.1"/>
<ellipse cx="48.3" cy="403.77" rx="1.25" ry="0.85" fill="#000"/>
<rect x="80.54" y="417.84" width="8.7" height="15.16" fill="#fff" stroke="#333333" stroke-width="0.9"/>
<line x1="84.89" y1="397.63" x2="84.89" y2="417.84" stroke="#686868" stroke-width="1.1"/>
<line x1="84.89" y1="433" x2="84.89" y2="460.43" stroke="#686868" stroke-width="1.1"/>
<ellipse cx="84.89" cy="425.06" rx="1.25" ry="0.85" fill="#000"/>
<rect x="117.13" y="408.46" width="8.7" height="5.05" fill="#fff" stroke="#333333" stroke-width="0.9"/>
<line x1="121.48" y1="397.63" x2="121.48" y2="408.46" stroke="#686868" stroke-width="1.1"/>
<line x1="121.48" y1="413.51" x2="121.48" y2="417.84" stroke="#686868" stroke-width="1.1"/>
<ellipse cx="121.48" cy="410.62" rx="1.25" ry="0.85" fill="#000"/>
<rect x="153.72" y="400.52" width="8.7" height="9.38" fill="#fff" stroke="#333333" stroke-width="0.9"/>
<line x1="158.06" y1="384.64" x2="158.06" y2="400.52" stroke="#686868" stroke-width="1.1"/>
<line x1="158.06" y1="409.9" x2="158.06" y2="439.5" stroke="#686868" stroke-width="1.1"/>
<ellipse cx="158.06" cy="404.85" rx="1.25" ry="0.85" fill="#000"/>
<rect x="190.31" y="399.44" width="8.7" height="9.75" fill="#fff" stroke="#333333" stroke-width="0.9"/>
<line x1="194.66" y1="386.8" x2="194.66" y2="399.44" stroke="#686868" stroke-width="1.1"/>
<line x1="194.66" y1="409.18" x2="194.66" y2="447.44" stroke="#686868" stroke-width="1.1"/>
<ellipse cx="194.66" cy="404.13" rx="1.25" ry="0.85" fill="#000"/>
<rect x="226.9" y="401.24" width="8.7" height="8.66" fill="#fff" stroke="#333333" stroke-width="0.9"/>
<line x1="231.25" y1="381.75" x2="231.25" y2="401.24" stroke="#686868" stroke-width="1.1"/>
<line x1="231.25" y1="409.9" x2="231.25" y2="431.56" stroke="#686868" stroke-width="1.1"/>
<ellipse cx="231.25" cy="405.57" rx="1.25" ry="0.85" fill="#000"/>
<text x="34.3" y="478.8" font-size="6.1" font-weight="bold">Males</text>
<text x="61.4" y="478.8" font-size="6.1" font-weight="bold" class="g">Females</text>
<text x="48.3" y="494.5" font-size="5.8" font-weight="bold" text-anchor="middle">Baseline</text>
<text x="84.89" y="494.5" font-size="5.8" font-weight="bold" text-anchor="middle">Post-</text>
<text x="84.89" y="500.9" font-size="5.8" font-weight="bold" text-anchor="middle">collection</text>
<text x="121.48" y="494.5" font-size="5.8" font-weight="bold" text-anchor="middle">1 month</text>
<text x="158.06" y="494.5" font-size="5.8" font-weight="bold" text-anchor="middle">1 year</text>
<text x="194.66" y="494.5" font-size="5.8" font-weight="bold" text-anchor="middle">2 years</text>
<text x="231.25" y="494.5" font-size="5.8" font-weight="bold" text-anchor="middle">3 years</text>
<text class="r" x="20" y="507" font-size="5.3">N =</text>
<text x="30.9" y="513.7" font-size="5.3" class="g r">N =</text>
<text class="r" x="47.2" y="507" font-size="5.3" text-anchor="middle">1638</text>
<text class="r" x="83.79" y="507" font-size="5.3" text-anchor="middle">818</text>
<text class="r" x="120.38" y="507" font-size="5.3" text-anchor="middle">13</text>
<text class="r" x="156.97" y="507" font-size="5.3" text-anchor="middle">519</text>
<text class="r" x="193.56" y="507" font-size="5.3" text-anchor="middle">303</text>
<text class="r" x="230.15" y="507" font-size="5.3" text-anchor="middle">148</text>
<text x="59.59" y="513.7" font-size="5.3" text-anchor="middle" class="g r">1098</text>
<text x="96.19" y="513.7" font-size="5.3" text-anchor="middle" class="g r">812</text>
<text x="132.78" y="513.7" font-size="5.3" text-anchor="middle" class="g r">7</text>
<text x="169.37" y="513.7" font-size="5.3" text-anchor="middle" class="g r">417</text>
<text x="205.96" y="513.7" font-size="5.3" text-anchor="middle" class="g r">238</text>
<text x="242.55" y="513.7" font-size="5.3" text-anchor="middle" class="g r">126</text>
<line x1="292.4" y1="470.9" x2="517.38" y2="470.9" stroke="#b4b4b4" stroke-width="1.0"/>
<line x1="292.4" y1="456.5" x2="517.38" y2="456.5" stroke="#b4b4b4" stroke-width="1.0"/>
<line x1="292.4" y1="442.1" x2="517.38" y2="442.1" stroke="#b4b4b4" stroke-width="1.0"/>
<line x1="292.4" y1="427.7" x2="517.38" y2="427.7" stroke="#b4b4b4" stroke-width="1.0"/>
<line x1="292.4" y1="413.3" x2="517.38" y2="413.3" stroke="#b4b4b4" stroke-width="1.0"/>
<line x1="292.4" y1="398.9" x2="517.38" y2="398.9" stroke="#b4b4b4" stroke-width="1.0"/>
<line x1="292.4" y1="384.5" x2="517.38" y2="384.5" stroke="#b4b4b4" stroke-width="1.0"/>
<line x1="292.4" y1="370.1" x2="517.38" y2="370.1" stroke="#b4b4b4" stroke-width="1.0"/>
<line x1="292.4" y1="370.1" x2="292.4" y2="487.1" stroke="#a8a8a8" stroke-width="1.0"/>
<line x1="290.6" y1="485.3" x2="292.4" y2="485.3" stroke="#a8a8a8" stroke-width="1.0"/>
<text x="286.5" y="487.7" font-size="6.2" font-weight="bold" text-anchor="end">4</text>
<line x1="290.6" y1="470.9" x2="292.4" y2="470.9" stroke="#a8a8a8" stroke-width="1.0"/>
<text x="286.5" y="473.3" font-size="6.2" font-weight="bold" text-anchor="end">6</text>
<line x1="290.6" y1="456.5" x2="292.4" y2="456.5" stroke="#a8a8a8" stroke-width="1.0"/>
<text x="286.5" y="458.9" font-size="6.2" font-weight="bold" text-anchor="end">8</text>
<line x1="290.6" y1="442.1" x2="292.4" y2="442.1" stroke="#a8a8a8" stroke-width="1.0"/>
<text x="286.5" y="444.5" font-size="6.2" font-weight="bold" text-anchor="end">10</text>
<line x1="290.6" y1="427.7" x2="292.4" y2="427.7" stroke="#a8a8a8" stroke-width="1.0"/>
<text x="286.5" y="430.1" font-size="6.2" font-weight="bold" text-anchor="end">12</text>
<line x1="290.6" y1="413.3" x2="292.4" y2="413.3" stroke="#a8a8a8" stroke-width="1.0"/>
<text x="286.5" y="415.7" font-size="6.2" font-weight="bold" text-anchor="end">14</text>
<line x1="290.6" y1="398.9" x2="292.4" y2="398.9" stroke="#a8a8a8" stroke-width="1.0"/>
<text x="286.5" y="401.3" font-size="6.2" font-weight="bold" text-anchor="end">16</text>
<line x1="290.6" y1="384.5" x2="292.4" y2="384.5" stroke="#a8a8a8" stroke-width="1.0"/>
<text x="286.5" y="386.9" font-size="6.2" font-weight="bold" text-anchor="end">18</text>
<line x1="290.6" y1="370.1" x2="292.4" y2="370.1" stroke="#a8a8a8" stroke-width="1.0"/>
<text x="286.5" y="372.5" font-size="6.2" font-weight="bold" text-anchor="end">20</text>
<line x1="292.4" y1="485.3" x2="517.38" y2="485.3" stroke="#a8a8a8" stroke-width="1.0"/>
<line x1="324.62" y1="483.8" x2="324.62" y2="487.1" stroke="#a8a8a8" stroke-width="1.0"/>
<line x1="356.75" y1="483.8" x2="356.75" y2="487.1" stroke="#a8a8a8" stroke-width="1.0"/>
<line x1="388.88" y1="483.8" x2="388.88" y2="487.1" stroke="#a8a8a8" stroke-width="1.0"/>
<line x1="421" y1="483.8" x2="421" y2="487.1" stroke="#a8a8a8" stroke-width="1.0"/>
<line x1="453.12" y1="483.8" x2="453.12" y2="487.1" stroke="#a8a8a8" stroke-width="1.0"/>
<line x1="485.25" y1="483.8" x2="485.25" y2="487.1" stroke="#a8a8a8" stroke-width="1.0"/>
<line x1="517.38" y1="483.8" x2="517.38" y2="487.1" stroke="#a8a8a8" stroke-width="1.0"/>
<text transform="translate(268.6,426.5) rotate(-90)" font-size="6.2" font-weight="bold" text-anchor="middle">Hemoglobin (g/dL)</text>
<text x="393.5" y="355.5" font-size="6.8" font-weight="bold" text-anchor="middle">PBSC Donors</text>
<polyline fill="none" stroke="#a8a8a8" stroke-width="0.8" points="320.01,416.9 352.14,419.78 384.26,429.86 416.39,422.66 448.51,418.7 480.64,418.7 512.76,417.26"/>
<line x1="320.01" y1="395.66" x2="320.01" y2="445.7" stroke="#999999" stroke-width="0.8"/>
<line x1="352.14" y1="385.22" x2="352.14" y2="451.46" stroke="#999999" stroke-width="0.8"/>
<line x1="384.26" y1="406.1" x2="384.26" y2="470.18" stroke="#999999" stroke-width="0.8"/>
<line x1="416.39" y1="408.26" x2="416.39" y2="444.26" stroke="#999999" stroke-width="0.8"/>
<line x1="448.51" y1="396.02" x2="448.51" y2="447.86" stroke="#999999" stroke-width="0.8"/>
<line x1="480.64" y1="391.7" x2="480.64" y2="441.38" stroke="#999999" stroke-width="0.8"/>
<line x1="512.76" y1="398.9" x2="512.76" y2="448.58" stroke="#999999" stroke-width="0.8"/>
<rect x="315.96" y="412.58" width="8.1" height="9.36" fill="#fff" stroke="#9a9a9a" stroke-width="0.8"/>
<line x1="320.01" y1="395.66" x2="320.01" y2="412.58" stroke="#999999" stroke-width="0.8"/>
<line x1="320.01" y1="421.94" x2="320.01" y2="445.7" stroke="#999999" stroke-width="0.8"/>
<ellipse cx="320.01" cy="416.9" rx="1.25" ry="0.85" fill="#444"/>
<rect x="348.09" y="415.46" width="8.1" height="8.64" fill="#fff" stroke="#9a9a9a" stroke-width="0.8"/>
<line x1="352.14" y1="385.22" x2="352.14" y2="415.46" stroke="#999999" stroke-width="0.8"/>
<line x1="352.14" y1="424.1" x2="352.14" y2="451.46" stroke="#999999" stroke-width="0.8"/>
<ellipse cx="352.14" cy="419.78" rx="1.25" ry="0.85" fill="#444"/>
<rect x="380.21" y="425.18" width="8.1" height="9.36" fill="#fff" stroke="#9a9a9a" stroke-width="0.8"/>
<line x1="384.26" y1="406.1" x2="384.26" y2="425.18" stroke="#999999" stroke-width="0.8"/>
<line x1="384.26" y1="434.54" x2="384.26" y2="470.18" stroke="#999999" stroke-width="0.8"/>
<ellipse cx="384.26" cy="429.86" rx="1.25" ry="0.85" fill="#444"/>
<rect x="412.34" y="418.7" width="8.1" height="11.52" fill="#fff" stroke="#9a9a9a" stroke-width="0.8"/>
<line x1="416.39" y1="408.26" x2="416.39" y2="418.7" stroke="#999999" stroke-width="0.8"/>
<line x1="416.39" y1="430.22" x2="416.39" y2="444.26" stroke="#999999" stroke-width="0.8"/>
<ellipse cx="416.39" cy="422.66" rx="1.25" ry="0.85" fill="#444"/>
<rect x="444.46" y="414.02" width="8.1" height="9.36" fill="#fff" stroke="#9a9a9a" stroke-width="0.8"/>
<line x1="448.51" y1="396.02" x2="448.51" y2="414.02" stroke="#999999" stroke-width="0.8"/>
<line x1="448.51" y1="423.38" x2="448.51" y2="447.86" stroke="#999999" stroke-width="0.8"/>
<ellipse cx="448.51" cy="418.7" rx="1.25" ry="0.85" fill="#444"/>
<rect x="476.59" y="414.02" width="8.1" height="8.64" fill="#fff" stroke="#9a9a9a" stroke-width="0.8"/>
<line x1="480.64" y1="391.7" x2="480.64" y2="414.02" stroke="#999999" stroke-width="0.8"/>
<line x1="480.64" y1="422.66" x2="480.64" y2="441.38" stroke="#999999" stroke-width="0.8"/>
<ellipse cx="480.64" cy="418.7" rx="1.25" ry="0.85" fill="#444"/>
<rect x="508.71" y="413.3" width="8.1" height="9.36" fill="#fff" stroke="#9a9a9a" stroke-width="0.8"/>
<line x1="512.76" y1="398.9" x2="512.76" y2="413.3" stroke="#999999" stroke-width="0.8"/>
<line x1="512.76" y1="422.66" x2="512.76" y2="448.58" stroke="#999999" stroke-width="0.8"/>
<ellipse cx="512.76" cy="417.26" rx="1.25" ry="0.85" fill="#444"/>
<polyline fill="none" stroke="#6a6a6a" stroke-width="0.8" points="308.56,403.94 340.69,406.82 372.81,415.46 404.94,408.62 437.06,403.94 469.19,404.3 501.31,405.38"/>
<line x1="308.56" y1="377.3" x2="308.56" y2="441.38" stroke="#686868" stroke-width="1.1"/>
<line x1="340.69" y1="381.62" x2="340.69" y2="442.1" stroke="#686868" stroke-width="1.1"/>
<line x1="372.81" y1="380.18" x2="372.81" y2="463.7" stroke="#686868" stroke-width="1.1"/>
<line x1="404.94" y1="377.3" x2="404.94" y2="429.14" stroke="#686868" stroke-width="1.1"/>
<line x1="437.06" y1="380.9" x2="437.06" y2="447.14" stroke="#686868" stroke-width="1.1"/>
<line x1="469.19" y1="377.3" x2="469.19" y2="433.46" stroke="#686868" stroke-width="1.1"/>
<line x1="501.31" y1="386.66" x2="501.31" y2="431.66" stroke="#686868" stroke-width="1.1"/>
<rect x="304.51" y="398.9" width="8.1" height="9.36" fill="#fff" stroke="#333333" stroke-width="0.9"/>
<line x1="308.56" y1="377.3" x2="308.56" y2="398.9" stroke="#686868" stroke-width="1.1"/>
<line x1="308.56" y1="408.26" x2="308.56" y2="441.38" stroke="#686868" stroke-width="1.1"/>
<ellipse cx="308.56" cy="403.94" rx="1.25" ry="0.85" fill="#000"/>
<rect x="336.64" y="402.5" width="8.1" height="8.28" fill="#fff" stroke="#333333" stroke-width="0.9"/>
<line x1="340.69" y1="381.62" x2="340.69" y2="402.5" stroke="#686868" stroke-width="1.1"/>
<line x1="340.69" y1="410.78" x2="340.69" y2="442.1" stroke="#686868" stroke-width="1.1"/>
<ellipse cx="340.69" cy="406.82" rx="1.25" ry="0.85" fill="#000"/>
<rect x="368.76" y="410.06" width="8.1" height="9.72" fill="#fff" stroke="#333333" stroke-width="0.9"/>
<line x1="372.81" y1="380.18" x2="372.81" y2="410.06" stroke="#686868" stroke-width="1.1"/>
<line x1="372.81" y1="419.78" x2="372.81" y2="463.7" stroke="#686868" stroke-width="1.1"/>
<ellipse cx="372.81" cy="415.46" rx="1.25" ry="0.85" fill="#000"/>
<rect x="400.89" y="401.06" width="8.1" height="12.96" fill="#fff" stroke="#333333" stroke-width="0.9"/>
<line x1="404.94" y1="377.3" x2="404.94" y2="401.06" stroke="#686868" stroke-width="1.1"/>
<line x1="404.94" y1="414.02" x2="404.94" y2="429.14" stroke="#686868" stroke-width="1.1"/>
<ellipse cx="404.94" cy="408.62" rx="1.25" ry="0.85" fill="#000"/>
<rect x="433.01" y="400.34" width="8.1" height="8.64" fill="#fff" stroke="#333333" stroke-width="0.9"/>
<line x1="437.06" y1="380.9" x2="437.06" y2="400.34" stroke="#686868" stroke-width="1.1"/>
<line x1="437.06" y1="408.98" x2="437.06" y2="447.14" stroke="#686868" stroke-width="1.1"/>
<ellipse cx="437.06" cy="403.94" rx="1.25" ry="0.85" fill="#000"/>
<rect x="465.14" y="400.34" width="8.1" height="8.64" fill="#fff" stroke="#333333" stroke-width="0.9"/>
<line x1="469.19" y1="377.3" x2="469.19" y2="400.34" stroke="#686868" stroke-width="1.1"/>
<line x1="469.19" y1="408.98" x2="469.19" y2="433.46" stroke="#686868" stroke-width="1.1"/>
<ellipse cx="469.19" cy="404.3" rx="1.25" ry="0.85" fill="#000"/>
<rect x="497.26" y="400.34" width="8.1" height="9" fill="#fff" stroke="#333333" stroke-width="0.9"/>
<line x1="501.31" y1="386.66" x2="501.31" y2="400.34" stroke="#686868" stroke-width="1.1"/>
<line x1="501.31" y1="409.34" x2="501.31" y2="431.66" stroke="#686868" stroke-width="1.1"/>
<ellipse cx="501.31" cy="405.38" rx="1.25" ry="0.85" fill="#000"/>
<text x="299.7" y="478.8" font-size="6.1" font-weight="bold">Males</text>
<text x="327" y="478.8" font-size="6.1" font-weight="bold" class="g">Females</text>
<text x="308.56" y="494.5" font-size="5.8" font-weight="bold" text-anchor="middle">Baseline</text>
<text x="340.69" y="494.5" font-size="5.8" font-weight="bold" text-anchor="middle">Day 5 Pre</text>
<text x="372.81" y="494.5" font-size="5.8" font-weight="bold" text-anchor="middle">Day 5 Post</text>
<text x="404.94" y="494.5" font-size="5.8" font-weight="bold" text-anchor="middle">1 month</text>
<text x="437.06" y="494.5" font-size="5.8" font-weight="bold" text-anchor="middle">1 year</text>
<text x="469.19" y="494.5" font-size="5.8" font-weight="bold" text-anchor="middle">2 years</text>
<text x="501.31" y="494.5" font-size="5.8" font-weight="bold" text-anchor="middle">3 years</text>
<text class="r" x="282" y="507" font-size="5.3">N =</text>
<text x="293.45" y="513.7" font-size="5.3" class="g r">N =</text>
<text class="r" x="307.96" y="507" font-size="5.3" text-anchor="middle">4170</text>
<text class="r" x="340.09" y="507" font-size="5.3" text-anchor="middle">4167</text>
<text class="r" x="372.21" y="507" font-size="5.3" text-anchor="middle">4139</text>
<text class="r" x="404.34" y="507" font-size="5.3" text-anchor="middle">41</text>
<text class="r" x="436.46" y="507" font-size="5.3" text-anchor="middle">1216</text>
<text class="r" x="468.59" y="507" font-size="5.3" text-anchor="middle">621</text>
<text class="r" x="500.71" y="507" font-size="5.3" text-anchor="middle">288</text>
<text x="320.41" y="513.7" font-size="5.3" text-anchor="middle" class="g r">2698</text>
<text x="352.54" y="513.7" font-size="5.3" text-anchor="middle" class="g r">2696</text>
<text x="384.66" y="513.7" font-size="5.3" text-anchor="middle" class="g r">2684</text>
<text x="416.79" y="513.7" font-size="5.3" text-anchor="middle" class="g r">43</text>
<text x="448.91" y="513.7" font-size="5.3" text-anchor="middle" class="g r">887</text>
<text x="481.04" y="513.7" font-size="5.3" text-anchor="middle" class="g r">480</text>
<text x="513.16" y="513.7" font-size="5.3" text-anchor="middle" class="g r">220</text>
</svg>
</body></html>
